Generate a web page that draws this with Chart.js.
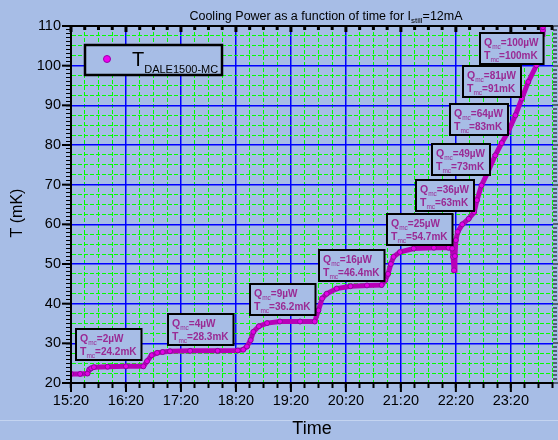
<!DOCTYPE html>
<html lang="en">
<head>
<meta charset="UTF-8">
<title>Cooling Power as a function of time</title>
<script src="https://cdn.jsdelivr.net/npm/chart.js@4.4.0/dist/chart.umd.min.js"></script>
<style>
    html, body { margin: 0; padding: 0; background: #a7bde6; }
    #wrap { width: 558px; height: 440px; }
</style>
</head>
<body>
<div id="wrap"><canvas id="chart" width="558" height="440"></canvas></div>
<script>
    // T_DALE1500-MC readings
    const times = ['15:20', '15:30', '15:38', '15:40', '15:42', '15:45', '16:00', '16:20', '16:39', '16:43',
                   '16:48', '16:54', '17:00', '17:08', '17:30', '18:00', '18:22', '18:28', '18:32', '18:36',
                   '18:39', '18:45', '18:54', '19:08', '19:30', '19:46', '19:50', '19:54', '19:59', '20:10',
                   '20:25', '20:43', '20:59', '21:03', '21:06', '21:09', '21:12', '21:19', '21:34', '21:56',
                   '22:12', '22:16', '22:17', '22:18', '22:19', '22:20', '22:22', '22:27', '22:34', '22:40',
                   '22:43', '22:48', '22:55', '23:03', '23:10', '23:17', '23:25', '23:32', '23:39', '23:48',
                   '23:50', '23:51', '23:52', '23:53', '23:53', '23:54', '23:55', '23:55'];
    const temps = [22.3, 22.3, 22.4, 23.4, 23.7, 24.0, 24.1, 24.2, 24.2, 25.5,
                   27.0, 27.6, 27.8, 28.0, 28.1, 28.1, 28.2, 28.4, 29.2, 30.8,
                   32.9, 34.3, 35.1, 35.5, 35.5, 35.5, 38.3, 41.3, 42.5, 43.8,
                   44.4, 44.6, 44.7, 45.9, 47.5, 50.0, 51.8, 53.0, 53.9, 54.1,
                   54.1, 53.9, 51.8, 48.4, 52.0, 56.0, 58.1, 60.0, 61.4, 63.1,
                   66.1, 69.8, 73.2, 77.4, 80.5, 83.3, 87.5, 91.7, 95.9, 100.1,
                   102.2, 103.4, 104.5, 105.7, 106.8, 107.9, 108.9, 109.7];

    const xTickLabels = ['15:20', '16:20', '17:20', '18:20', '19:20', '20:20', '21:20', '22:20', '23:20'];
    const yTickLabels = [20, 30, 40, 50, 60, 70, 80, 90, 100, 110];

    // cooling power steps: Q_mc (uW) and resulting T_mc (mK)
    const noteQ = ['2', '4', '9', '16', '25', '36', '49', '64', '81', '100'];
    const noteT = ['24.2', '28.3', '36.2', '46.4', '54.7', '63', '73', '83', '91', '100'];
    // where each label box sits (top left corner, in time / mK)
    const noteAt = ['15:26', '17:06', '18:35', '19:51', '21:05', '21:37', '21:54', '22:14', '22:28', '22:46'];
    const noteLevel = [33.7, 37.5, 44.9, 53.6, 62.7, 71.1, 80.2, 90.3, 99.8, 108.3];

    const FONT = "'Liberation Sans', Arial, sans-serif";
    const X_MIN = toMin('15:20');
    const X_MAX = toMin('24:06');

    function toMin(s) {
        const [h, m] = s.split(':').map(Number);
        return h * 60 + m;
    }

    const hourLabel = {};
    xTickLabels.forEach(l => { hourLabel[toMin(l)] = l; });
    const isHour = v => hourLabel[v] !== undefined;
    const isDecade = v => yTickLabels.indexOf(v) >= 0;

    // minor ticks: 15 min on time, 0.5 mK on temperature
    const xMinor = [];
    for (let v = X_MIN; v <= X_MAX; v += 15) xMinor.push(v);
    const yMinor = [];
    for (let v = 20; v <= 110; v += 0.5) yMinor.push(v);

    // text with subscripts, parts = [text, size, bold, dy]
    function runText(ctx, x, y, parts, measureOnly) {
        let cx = x;
        parts.forEach(p => {
            ctx.font = (p[2] ? 'bold ' : '') + p[1] + 'px ' + FONT;
            if (!measureOnly) ctx.fillText(p[0], cx, y + (p[3] || 0));
            cx += ctx.measureText(p[0]).width;
        });
        return cx - x;
    }

    const decor = {
        id: 'decor',
        beforeDraw(chart) {
            const ctx = chart.ctx;
            ctx.save();
            ctx.fillStyle = '#a7bde6';
            ctx.fillRect(0, 0, chart.width, chart.height);
            ctx.restore();
        },
        afterDatasetsDraw(chart) {
            const ctx = chart.ctx;
            const xs = chart.scales.x, ys = chart.scales.y;
            ctx.save();
            ctx.textBaseline = 'alphabetic';
            ctx.textAlign = 'left';
            for (let i = 0; i < noteQ.length; i++) {
                const bx = Math.round(xs.getPixelForValue(toMin(noteAt[i])));
                const by = Math.round(ys.getPixelForValue(noteLevel[i]));
                const l1 = [['Q', 10.5, true], ['mc', 6.5, false, 3], ['=' + noteQ[i] + 'µW', 10, true]];
                const l2 = [['T', 10.5, true], ['mc', 6.5, false, 3], ['=' + noteT[i] + 'mK', 10, true]];
                const w = Math.max(runText(ctx, 0, 0, l1, true), runText(ctx, 0, 0, l2, true)) + 9;
                ctx.fillStyle = '#a7bde6';
                ctx.fillRect(bx, by, w, 31);
                ctx.strokeStyle = '#000';
                ctx.lineWidth = 2;
                ctx.strokeRect(bx, by, w, 31);
                ctx.fillStyle = '#9a2a94';
                runText(ctx, bx + 4, by + 13, l1);
                runText(ctx, bx + 4, by + 26, l2);
            }
            ctx.restore();
        },
        afterDraw(chart) {
            const ctx = chart.ctx;
            const a = chart.chartArea;
            const xs = chart.scales.x, ys = chart.scales.y;
            ctx.save();

            // top frame with inward ticks, right side ticks
            ctx.strokeStyle = '#000';
            ctx.lineWidth = 2;
            ctx.beginPath();
            ctx.moveTo(a.left, a.top);
            ctx.lineTo(a.right, a.top);
            ctx.stroke();
            ctx.fillStyle = '#000';
            xMinor.forEach(v => {
                const px = xs.getPixelForValue(v);
                ctx.fillRect(px - 1.5, a.top, 3, isHour(v) ? 6 : 4);
            });
            yMinor.forEach(v => {
                if (v % 1 !== 0) return;
                const py = Math.round(ys.getPixelForValue(v));
                ctx.fillRect(a.right, py - 0.5, isDecade(v) ? 6 : 4, 1);
            });

            // longer marks at the labelled ticks
            xTickLabels.forEach(l => {
                const px = xs.getPixelForValue(toMin(l));
                ctx.fillRect(px - 1, a.bottom, 2, 9);
            });
            yTickLabels.forEach(v => {
                const py = ys.getPixelForValue(v);
                ctx.fillRect(a.left - 9, py - 1, 9, 2);
            });

            // faint line near the bottom
            ctx.fillStyle = '#c4d4f0';
            ctx.fillRect(0, 420, chart.width, 1);

            // title
            ctx.fillStyle = '#000';
            ctx.textBaseline = 'alphabetic';
            const tParts = [['Cooling Power as a function of time for I', 12.5], ['still', 8, false, 3], ['=12mA', 12.5]];
            const tw = runText(ctx, 0, 0, tParts, true);
            runText(ctx, 326 - tw / 2, 20, tParts);

            // axis titles
            ctx.font = '18px ' + FONT;
            ctx.textAlign = 'center';
            ctx.fillText('Time', (a.left + a.right) / 2, 434);
            ctx.save();
            ctx.translate(22, 213);
            ctx.rotate(-Math.PI / 2);
            ctx.font = '16px ' + FONT;
            ctx.fillText('T (mK)', 0, 0);
            ctx.restore();

            // legend
            ctx.textAlign = 'left';
            const lx = a.left + 14, ly = a.top + 19;
            ctx.fillStyle = '#a7bde6';
            ctx.fillRect(lx, ly, 137, 30);
            ctx.strokeStyle = '#000';
            ctx.lineWidth = 2.5;
            ctx.strokeRect(lx, ly, 137, 30);
            ctx.beginPath();
            ctx.arc(lx + 22, ly + 14, 3.5, 0, Math.PI * 2);
            ctx.fillStyle = '#ee00ee';
            ctx.fill();
            ctx.lineWidth = 1;
            ctx.strokeStyle = '#9900aa';
            ctx.stroke();
            ctx.fillStyle = '#000';
            runText(ctx, lx + 47, ly + 21, [['T', 20], ['DALE1500-MC', 11, false, 7]]);

            ctx.restore();
        }
    };

    const points = times.map((t, i) => ({ x: toMin(t), y: temps[i] }));

    new Chart(document.getElementById('chart'), {
        type: 'line',
        data: {
            datasets: [{
                label: 'T DALE1500-MC',
                data: points,
                borderColor: '#b800b8',
                borderWidth: 5,
                pointRadius: 2.5,
                pointBackgroundColor: '#e600e6',
                pointBorderColor: '#8a0a9a',
                pointBorderWidth: 1,
                tension: 0
            }]
        },
        options: {
            responsive: false,
            animation: false,
            devicePixelRatio: 1,
            layout: { padding: { left: 0, top: 26, right: 5, bottom: 0 } },
            plugins: {
                legend: { display: false },
                tooltip: { enabled: false },
                title: { display: false }
            },
            scales: {
                x: {
                    type: 'linear',
                    min: X_MIN,
                    max: X_MAX,
                    afterBuildTicks: s => { s.ticks = xMinor.map(v => ({ value: v })); },
                    afterFit: s => { s.height = 57; },
                    ticks: {
                        autoSkip: false,
                        maxRotation: 0,
                        padding: 4,
                        color: '#000',
                        font: { family: FONT, size: 14.5 },
                        callback: v => isHour(v) ? hourLabel[v] : ''
                    },
                    grid: {
                        color: c => (c.tick && isHour(c.tick.value)) ? '#0000ff' : '#00ff00',
                        lineWidth: c => (c.tick && isHour(c.tick.value)) ? 1.5 : 1,
                        tickColor: '#000',
                        tickLength: 5,
                        tickWidth: 2
                    },
                    border: {
                        color: '#000',
                        width: 2,
                        z: 1,
                        dash: c => (c.tick && !isHour(c.tick.value)) ? [4, 2] : []
                    }
                },
                y: {
                    type: 'linear',
                    min: 20,
                    max: 110,
                    afterBuildTicks: s => { s.ticks = yMinor.map(v => ({ value: v })); },
                    afterFit: s => { s.width = 71; },
                    ticks: {
                        autoSkip: false,
                        padding: 5,
                        color: '#000',
                        font: { family: FONT, size: 14.5 },
                        callback: v => isDecade(v) ? String(v) : ''
                    },
                    grid: {
                        color: c => {
                            if (!c.tick) return 'transparent';
                            const v = c.tick.value;
                            if (v === 20 || v === 110) return 'transparent';
                            if (isDecade(v)) return '#0000ff';
                            if ((v * 2) % 5 === 0) return '#00ff00';
                            return 'transparent';
                        },
                        lineWidth: c => (c.tick && isDecade(c.tick.value)) ? 1.5 : 1,
                        tickColor: c => (c.tick && c.tick.value % 1 === 0) ? '#000' : 'transparent',
                        tickLength: 5,
                        tickWidth: 1
                    },
                    border: {
                        color: '#000',
                        width: 2,
                        z: 1,
                        dash: c => (c.tick && !isDecade(c.tick.value)) ? [4, 2] : []
                    }
                }
            }
        },
        plugins: [decor]
    });
</script>
</body>
</html>
